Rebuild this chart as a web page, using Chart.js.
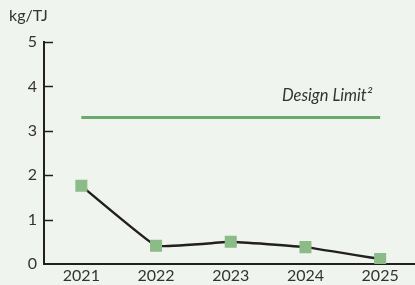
<!DOCTYPE html>
<html>
<head>
<meta charset="utf-8">
<script src="https://cdn.jsdelivr.net/npm/chart.js@4/dist/chart.umd.min.js"></script>
<style>
  html, body { margin: 0; padding: 0; background: #eff4ee; overflow: hidden; }
  #wrap { width: 426px; height: 285px; position: relative; }
</style>
</head>
<body>
<div id="wrap"><canvas id="chart"></canvas></div>
<script>
// values
const years = ['2021', '2022', '2023', '2024', '2025'];
const emissions = [1.76, 0.41, 0.5, 0.38, 0.11];
const designLimit = [3.3, 3.3, 3.3, 3.3, 3.3];
const yTicks = [0, 1, 2, 3, 4, 5];

const FONT = 'Lato, "Open Sans", sans-serif';
const INK = '#231f20';

// inward tick marks + unit label + design limit text
const extras = {
  id: 'extras',
  afterDraw(chart) {
    const { ctx, scales: { x, y }, chartArea } = chart;
    ctx.save();
    ctx.strokeStyle = INK;
    ctx.lineWidth = 1.5;
    yTicks.forEach(v => {
      if (v === 0) return;
      const py = Math.round(y.getPixelForValue(v)) + 0.5;
      ctx.beginPath();
      ctx.moveTo(chartArea.left, py);
      ctx.lineTo(chartArea.left + 9, py);
      ctx.stroke();
    });
    ctx.fillStyle = '#333';
    ctx.font = '16px ' + FONT;
    ctx.textBaseline = 'middle';
    ctx.fillText('kg/TJ', 9, 16);

    ctx.font = 'italic 16.5px ' + FONT;
    ctx.textAlign = 'right';
    ctx.fillText('Design Limit\u00B2', x.getPixelForValue(4) - 8, y.getPixelForValue(3.8));
    ctx.restore();
  }
};

new Chart(document.getElementById('chart'), {
  type: 'line',
  data: {
    labels: years,
    datasets: [
      {
        label: 'Design Limit',
        data: designLimit,
        borderColor: '#6aaa6a',
        borderWidth: 3,
        pointRadius: 0,
        tension: 0
      },
      {
        label: 'kg/TJ',
        data: emissions,
        borderColor: INK,
        borderWidth: 2.5,
        tension: 0.08,
        pointStyle: 'rect',
        pointRadius: 8.5,
        pointBackgroundColor: '#8bbb86',
        pointBorderColor: '#8bbb86',
        pointBorderWidth: 0
      }
    ]
  },
  options: {
    responsive: true,
    maintainAspectRatio: false,
    animation: false,
    layout: { padding: { top: 42, right: 0, left: 0, bottom: 0 } },
    plugins: { legend: { display: false }, tooltip: { enabled: false } },
    scales: {
      x: {
        offset: true,
        afterFit(scale) { scale.height = 21; },
        grid: { display: false, drawTicks: false },
        border: { color: INK, width: 2 },
        ticks: { color: '#333', font: { family: FONT, size: 16 }, padding: 2 }
      },
      y: {
        min: 0,
        max: 5,
        afterFit(scale) { scale.width = 44; },
        grid: { display: false, drawTicks: false },
        border: { color: INK, width: 2 },
        ticks: { stepSize: 1, color: '#333', font: { family: FONT, size: 16 }, padding: 7 }
      }
    }
  },
  plugins: [extras]
});
</script>
</body>
</html>
